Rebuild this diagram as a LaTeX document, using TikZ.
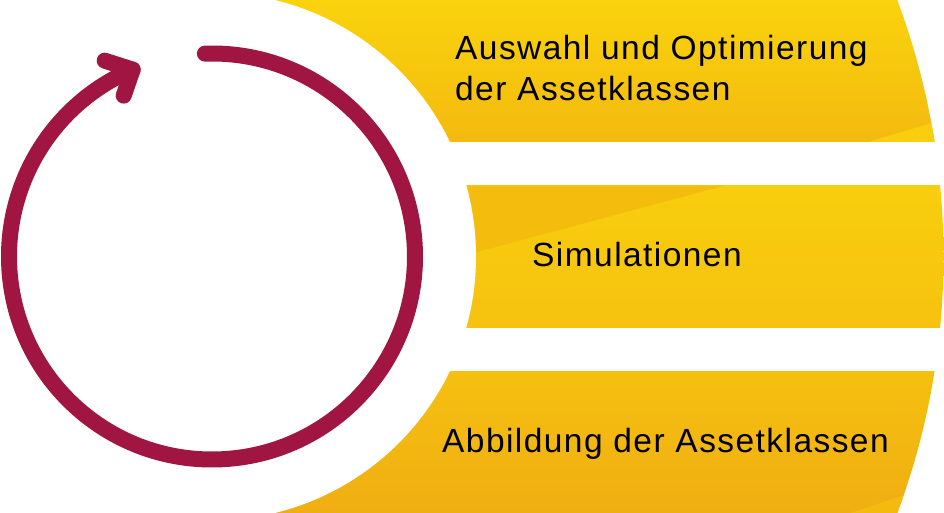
\documentclass[tikz,border=0pt]{standalone}
\usepackage{fontspec}
\setmainfont{Liberation Sans}
\usetikzlibrary{calc}
\definecolor{ringred}{RGB}{160,21,66}
\definecolor{yA}{RGB}{249,211,13}
\definecolor{yB}{RGB}{244,186,15}
\definecolor{yC}{RGB}{248,206,14}
\definecolor{yD}{RGB}{246,194,15}
\definecolor{yE}{RGB}{245,192,16}
\definecolor{yF}{RGB}{240,174,18}
\definecolor{yDark}{RGB}{244,189,14}
\definecolor{yLight}{RGB}{248,206,14}
\tikzset{
  ring/.style={draw=ringred, line width=16pt, line cap=round, line join=round},
  label/.style={anchor=base west, inner sep=0pt, align=left, text=black,
    font=\addfontfeature{LetterSpace=4.3}\fontsize{33.5}{41}\selectfont},
}
\begin{document}
\begin{tikzpicture}[x=1pt,y=-1pt]
\useasboundingbox (0,0) rectangle (944,513);
\coordinate (C) at (212,256.5);
% bands
\begin{scope}
  \clip (C) circle (731.5);
  \shade[top color=yA, bottom color=yB] (212,0) rectangle (944,142);
  \fill[yLight] (868,142) -- (935,122) -- (944,142) -- cycle;
  \shade[top color=yC, bottom color=yD] (212,185.5) rectangle (944,327.5);
  \fill[yDark] (440,185.5) -- (725,185.5) -- (440,262) -- cycle;
  \shade[top color=yE, bottom color=yF] (212,371) rectangle (944,513);
  \fill[yB] (850,513) -- (910,493) -- (944,513) -- cycle;
\end{scope}
\fill[white] (C) circle (264);
% cycle arrow
\draw[ring] ($(C)+(-92:203)$) arc[start angle=-92, end angle=247, radius=203] coordinate (tip);
\draw[ring] ($(tip)+(-28,-9)$) -- (tip) -- ++(-9,26);
% labels
\node[label] (t1) at (455,101) {Auswahl und Optimierung\\der Assetklassen};
\node[label] (t2) at (532,266) {Simulationen};
\node[label] (t3) at (442,452) {Abbildung der Assetklassen};
\end{tikzpicture}
\end{document}
